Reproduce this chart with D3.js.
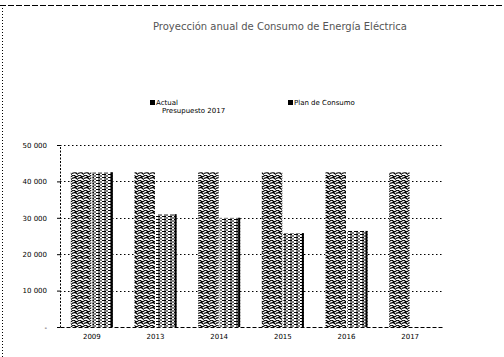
<!DOCTYPE html>
<html><head><meta charset="utf-8">
<script src="https://cdn.jsdelivr.net/npm/d3@7"></script>
<style>body{margin:0;background:#fff}svg{display:block}</style>
</head><body>
<svg id="c" width="504" height="357"></svg>
<script>
const categories = ["2009","2013","2014","2015","2016","2017"];
const actual = [42500,42500,42500,42500,42500,42500];
const plan = [42500,31000,30000,25800,26400,null];
const yTicks = [0,10000,20000,30000,40000,50000];
const tickLabels = ["-","10 000","20 000","30 000","40 000","50 000"];
const seriesNames = ["Actual","Plan de Consumo"];
const title = "Proyección anual de Consumo de Energía Eléctrica";

const svg = d3.select("#c");
const defs = svg.append("defs");
const p1 = defs.append("pattern").attr("id","p1").attr("patternUnits","userSpaceOnUse").attr("width",6).attr("height",5);
p1.append("rect").attr("width",6).attr("height",5).attr("fill","#fff");
p1.append("path").attr("d","M0,1 L2,0 L4,2 L6,1 M0,3.5 L3,2.5 L6,4.5").attr("stroke","#000").attr("stroke-width",1.2).attr("fill","none");
const p2 = defs.append("pattern").attr("id","p2").attr("patternUnits","userSpaceOnUse").attr("width",6).attr("height",3);
p2.append("rect").attr("width",6).attr("height",3).attr("fill","#fff");
p2.append("path").attr("d","M0,0.5 H4 M2,2 H6").attr("stroke","#000").attr("stroke-width",1.1);

svg.append("line").attr("x1",0).attr("x2",504).attr("y1",5.5).attr("y2",5.5).attr("stroke","#000").attr("stroke-dasharray","6,2");
svg.append("line").attr("x1",2.5).attr("x2",2.5).attr("y1",5).attr("y2",357).attr("stroke","#000").attr("stroke-dasharray","1,2");

svg.append("text").attr("x",280).attr("y",30).attr("text-anchor","middle")
  .attr("font-family","DejaVu Sans").attr("font-size",10).attr("fill","#555").text(title);

const x = d3.scaleBand().domain(categories).range([60,442]).paddingInner(0.34).paddingOuter(0.17);
const y = d3.scaleLinear().domain([0,50000]).range([327,145]);
const xs = d3.scaleBand().domain([0,1]).range([0,x.bandwidth()]).paddingInner(0.05);

svg.append("g").selectAll("line").data(yTicks.filter(d=>d>0)).join("line")
  .attr("x1",60).attr("x2",442).attr("y1",d=>Math.round(y(d))+0.5).attr("y2",d=>Math.round(y(d))+0.5)
  .attr("stroke","#000").attr("stroke-dasharray","1.5,2.5");

const data = [];
categories.forEach((c,i)=>{
  if(actual[i]!=null) data.push({c,s:0,v:actual[i]});
  if(plan[i]!=null) data.push({c,s:1,v:plan[i]});
});
svg.append("g").selectAll("rect").data(data).join("rect")
  .attr("x",d=>x(d.c)+xs(d.s)).attr("width",xs.bandwidth())
  .attr("y",d=>y(d.v)).attr("height",d=>y(0)-y(d.v))
  .attr("fill",d=>d.s===0?"url(#p1)":"url(#p2)");
// dark right edge on second series
svg.append("g").selectAll("line").data(data.filter(d=>d.s===1)).join("line")
  .attr("x1",d=>x(d.c)+xs(d.s)+xs.bandwidth()-1).attr("x2",d=>x(d.c)+xs(d.s)+xs.bandwidth()-1)
  .attr("y1",d=>y(d.v)).attr("y2",y(0)).attr("stroke","#000").attr("stroke-width",2);

const yAxis = d3.axisLeft(y).tickValues(yTicks).tickFormat((d,i)=>tickLabels[i]).tickSize(3).tickPadding(10);
const gy = svg.append("g").attr("transform","translate(60,0)").call(yAxis);
gy.select(".domain").attr("stroke-dasharray","2,1.5");
gy.selectAll("text").attr("font-family","DejaVu Sans").attr("font-size",7).attr("fill","#000");

const xAxis = d3.axisBottom(x).tickSize(0).tickPadding(7);
const gx = svg.append("g").attr("transform","translate(0,327)").call(xAxis);
gx.select(".domain").attr("stroke-dasharray","4,2");
gx.selectAll("text").attr("font-family","DejaVu Sans").attr("font-size",7).attr("fill","#000");

const leg = [{x:150,lines:[seriesNames[0],"Presupuesto 2017"]},{x:288,lines:[seriesNames[1]]}];
leg.forEach(l=>{
  const g = svg.append("g").attr("transform",`translate(${l.x},100)`);
  g.append("rect").attr("width",5).attr("height",5).attr("fill","#000");
  const t = g.append("text").attr("x",6).attr("y",5).attr("font-family","DejaVu Sans").attr("font-size",7);
  l.lines.forEach((ln,j)=>t.append("tspan").attr("x",j?12:6).attr("dy",j?8:0).text(ln));
});
</script>
</body></html>
